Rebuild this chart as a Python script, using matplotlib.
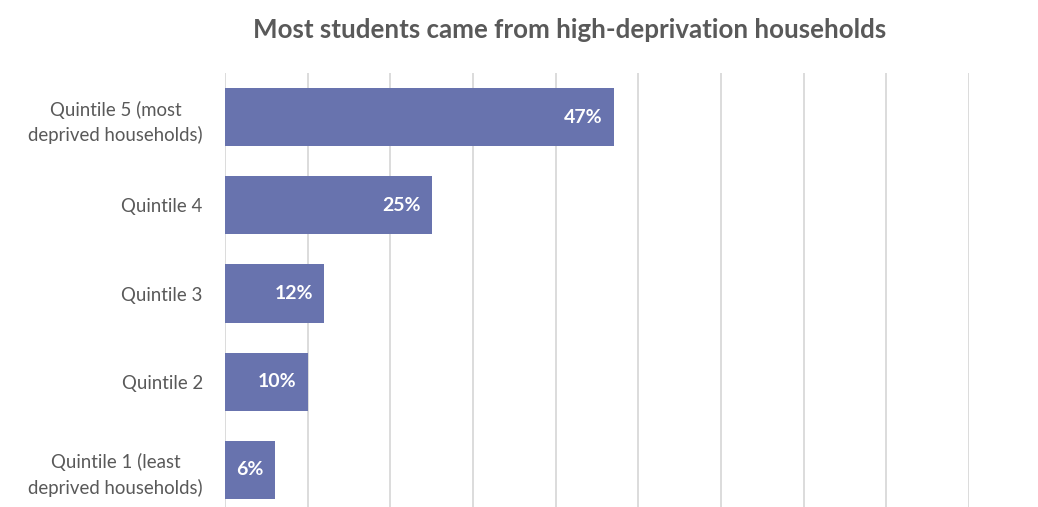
import matplotlib
matplotlib.use("Agg")
import matplotlib.pyplot as plt

categories = [
    "Quintile 1 (least\ndeprived households)",
    "Quintile 2",
    "Quintile 3",
    "Quintile 4",
    "Quintile 5 (most\ndeprived households)",
]
shares = [6, 10, 12, 25, 47]
title = "Most students came from high-deprivation households"

bar_color = "#6873AE"
text_color = "#595959"
grid_color = "#D9D9D9"

plt.rcParams["font.family"] = ["Lato", "DejaVu Sans"]

fig = plt.figure(figsize=(10.38, 5.07), dpi=100)
ax = fig.add_axes([225 / 1038, 1 - 514 / 507, (969 - 225) / 1038, (514 - 73) / 507])

y = range(len(categories))
bars = ax.barh(y, shares, height=0.66, color=bar_color, zorder=2)

for rect, v in zip(bars, shares):
    ax.annotate(f"{v}%", xy=(rect.get_width(), rect.get_y() + rect.get_height() / 2),
                xytext=(-11, 0), textcoords="offset pixels",
                ha="right", va="center", color="white", fontsize=14,
                fontweight="bold", zorder=3)

ax.set_xlim(0, 90)
ax.set_ylim(-0.5, len(categories) - 0.5)
ax.set_xticks(range(0, 91, 10))
ax.set_xticklabels([])
ax.tick_params(axis="x", length=0)
ax.xaxis.grid(True, color=grid_color, linewidth=1.3, zorder=0)
ax.set_axisbelow(True)

ax.set_yticks(list(y))
ax.set_yticklabels(categories, fontsize=13.4, color=text_color,
                   multialignment="center", linespacing=1.5)
ax.tick_params(axis="y", length=0, pad=16)

for s in ax.spines.values():
    s.set_visible(False)

fig.text(570 / 1038, 1 - 30 / 507, title, ha="center", va="center",
         fontsize=18.6, fontweight="bold", color=text_color)

fig.savefig("out.png", dpi=100)
